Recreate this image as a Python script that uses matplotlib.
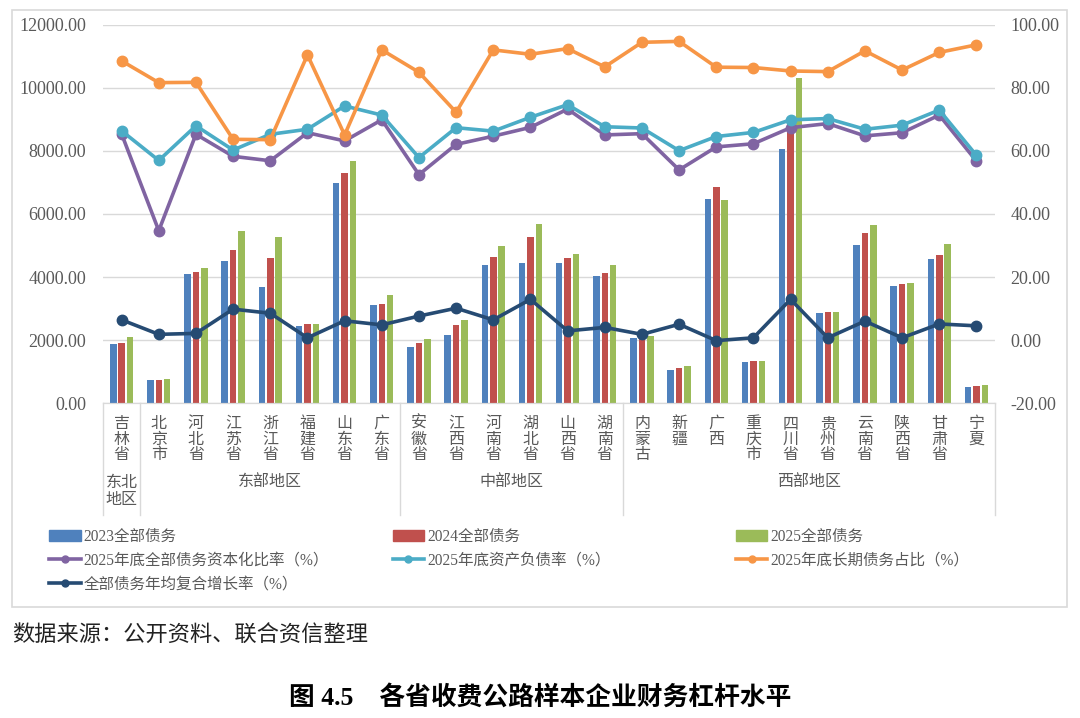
import matplotlib.pyplot as plt
from matplotlib.patches import Patch
from matplotlib.lines import Line2D

plt.rcParams['font.family'] = ['Liberation Serif', 'Noto Sans CJK SC']

provinces = ["吉林省", "北京市", "河北省", "江苏省", "浙江省", "福建省", "山东省", "广东省",
             "安徽省", "江西省", "河南省", "湖北省", "山西省", "湖南省",
             "内蒙古", "新疆", "广西", "重庆市", "四川省", "贵州省", "云南省", "陕西省", "甘肃省", "宁夏"]

# 地区分组：名称, 起止序号
regions = [("东北\n地区", 0, 0), ("东部地区", 1, 7), ("中部地区", 8, 13), ("西部地区", 14, 23)]

debt2023 = [1865, 730, 4096, 4519, 3672, 2445, 6975, 3112,
            1768, 2170, 4382, 4445, 4445, 4022,
            2064, 1058, 6477, 1312, 8054, 2847, 5027, 3715, 4582, 518]
debt2024 = [1895, 730, 4159, 4858, 4614, 2498, 7313, 3133,
            1895, 2466, 4625, 5260, 4604, 4138,
            2090, 1101, 6869, 1333, 9091, 2879, 5387, 3768, 4699, 540]
debt2025 = [2105, 752, 4276, 5461, 5281, 2498, 7684, 3429,
            2032, 2635, 4985, 5673, 4720, 4382,
            2127, 1164, 6445, 1333, 10308, 2879, 5652, 3800, 5048, 561]

cap_ratio = [65.4, 34.7, 65.3, 58.3, 56.9, 65.8, 63.2, 69.9,
             52.5, 62.1, 64.7, 67.5, 73.3, 65.1,
             65.5, 54.0, 61.3, 62.3, 67.4, 68.7, 64.8, 65.8, 71.4, 56.8]
asset_liab = [66.4, 57.0, 68.0, 60.3, 65.3, 66.9, 74.3, 71.4,
              57.9, 67.4, 66.3, 70.7, 74.7, 67.7,
              67.3, 60.1, 64.6, 65.9, 69.9, 70.3, 66.9, 68.2, 73.0, 58.6]
long_share = [88.6, 81.7, 81.8, 63.7, 63.6, 90.5, 65.1, 92.1,
              85.0, 72.3, 92.1, 90.7, 92.5, 86.7,
              94.5, 94.8, 86.6, 86.5, 85.4, 85.2, 91.8, 85.7, 91.3, 93.7]
cagr = [6.4, 1.8, 2.1, 9.8, 8.5, 0.7, 6.1, 4.8,
        7.6, 10.1, 6.4, 12.9, 2.9, 4.0,
        1.8, 5.0, -0.2, 0.7, 12.9, 0.7, 6.0, 0.7, 5.1, 4.5]

bar_colors = ["#4F81BD", "#C0504D", "#9BBB59"]
line_colors = ["#8064A2", "#4BACC6", "#F79646", "#264B73"]
bar_names = ["2023全部债务", "2024全部债务", "2025全部债务"]
line_names = ["2025年底全部债务资本化比率（%）", "2025年底资产负债率（%）",
              "2025年底长期债务占比（%）", "全部债务年均复合增长率（%）"]
text_color = "#595959"

fig = plt.figure(figsize=(10.8, 7.18), dpi=100)
ax = fig.add_axes([0.0954, 0.4387, 0.8259, 0.5265])
ax2 = ax.twinx()

x = list(range(len(provinces)))
w = 0.175
for k, vals in enumerate([debt2023, debt2024, debt2025]):
    ax.bar([i + (k - 1) * 0.225 for i in x], vals, width=w, color=bar_colors[k], zorder=2)

for vals, c in zip([cap_ratio, asset_liab, long_share, cagr], line_colors):
    ax2.plot(x, vals, color=c, lw=2.6, marker='o', markersize=7.5, zorder=3)

ax.set_xlim(-0.5, len(provinces) - 0.5)
ax.set_ylim(0, 12000)
ax2.set_ylim(-20, 100)
ax.set_yticks(range(0, 12001, 2000))
ax2.set_yticks(range(-20, 101, 20))
ax.set_yticklabels([f"{v:.2f}" for v in range(0, 12001, 2000)])
ax2.set_yticklabels([f"{v:.2f}" for v in range(-20, 101, 20)])
ax.yaxis.grid(True, color="#D9D9D9", lw=1)
ax.set_axisbelow(True)
ax.set_xticks([])

for a in (ax, ax2):
    for s in ("top", "left", "right"):
        a.spines[s].set_visible(False)
    a.spines["bottom"].set_color("#D9D9D9")
    a.tick_params(axis='y', length=0, labelsize=13, labelcolor=text_color)
ax.tick_params(axis='y', pad=12)
ax2.tick_params(axis='y', pad=11)

# 省份标签（竖排）与地区分组
tr = ax.get_xaxis_transform()
for i, name in enumerate(provinces):
    ax.text(i, -0.034, "\n".join(name), transform=tr, ha='center', va='top',
            fontsize=11.5, color=text_color, linespacing=0.98)
for label, a0, a1 in regions:
    ax.text((a0 + a1) / 2, -0.234 if "\n" in label else -0.21, label, transform=tr,
            ha='center', va='center', fontsize=11.5, color=text_color, linespacing=1.15)
for sep in [-0.5, 0.5, 7.5, 13.5, 23.5]:
    ax.plot([sep, sep], [0, -0.296], transform=tr, color="#D9D9D9", lw=1, clip_on=False)

# 图例
handles = [Patch(color=c) for c in bar_colors]
lines = [Line2D([], [], color=c, lw=2.6, marker='o', markersize=5) for c in line_colors]
cols = [[(handles[0], bar_names[0]), (lines[0], line_names[0]), (lines[3], line_names[3])],
        [(handles[1], bar_names[1]), (lines[1], line_names[1])],
        [(handles[2], bar_names[2]), (lines[2], line_names[2])]]
for xpos, col in zip([0.040, 0.358, 0.676], cols):
    fig.legend([h for h, _ in col], [t for _, t in col], loc='upper left',
               bbox_to_anchor=(xpos, 0.272), frameon=False, fontsize=11.2,
               labelcolor=text_color, handlelength=2.0, handletextpad=0.2,
               labelspacing=0.5, borderaxespad=0)

# 外框
fig.patches.append(plt.Rectangle((0.011, 0.155), 0.977, 0.831, transform=fig.transFigure,
                                 fill=False, edgecolor="#D9D9D9", lw=1.2))

fig.text(0.011, 0.114, "数据来源：公开资料、联合资信整理", fontsize=16,
         ha='left', va='center', color="#222222")
fig.text(0.5, 0.029, "图 4.5    各省收费公路样本企业财务杠杆水平", fontsize=18.5,
         ha='center', va='center', color="#000000", fontweight='bold')

fig.savefig("out.png", dpi=100)
